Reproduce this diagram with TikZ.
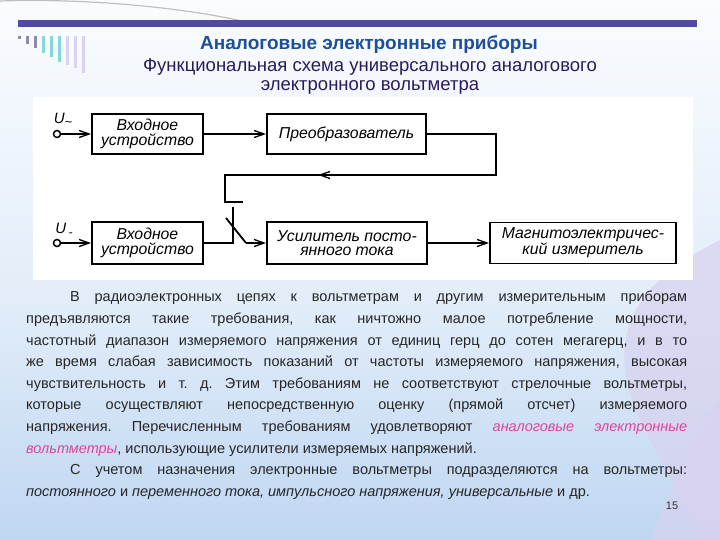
\documentclass[tikz,border=0pt]{standalone}
\usepackage{fontspec}
\setmainfont{Liberation Sans}
\usetikzlibrary{arrows.meta}
\definecolor{barcol}{HTML}{5249A6}
\definecolor{titlecol}{HTML}{1D4F9A}
\definecolor{subcol}{HTML}{2A1C5C}
\definecolor{pinkcol}{HTML}{DD459D}
\definecolor{bgtop}{HTML}{FAFCFF}
\definecolor{bgmid}{HTML}{E2EDF9}
\definecolor{bgbot}{HTML}{BFD6F2}
\definecolor{lav}{HTML}{D9D2F0}
\definecolor{teal}{HTML}{86D9D2}
\definecolor{grayb}{HTML}{8E8CA2}
\begin{document}
\begin{tikzpicture}[x=1pt,y=-1pt,
  blk/.style={draw,line width=1.8pt,fill=white,inner sep=0pt,
    font=\fontsize{15.8}{14.5}\selectfont\itshape,align=center},
  wire/.style={line width=1.8pt},
  arr/.style={wire,-{Straight Barb[length=10pt,width=7pt,line width=1.3pt]}},
  term/.style={circle,draw,line width=1.5pt,minimum size=7pt,inner sep=0pt,fill=white},
  deco/.style={minimum width=3.5pt,inner sep=0pt,anchor=north}]
\useasboundingbox (0,0) rectangle (720,540);
% background
\shade[top color=bgtop,bottom color=bgmid] (0,0) rectangle (720,300);
\shade[top color=bgmid,bottom color=bgbot] (0,300) rectangle (720,540);
\fill[lav,opacity=0.7] (720,240) .. controls (640,280) and (600,330) .. (640,420)
  .. controls (670,480) and (690,510) .. (700,540) -- (720,540) -- cycle;
\fill[lav,opacity=0.6] (650,540) .. controls (680,470) and (700,420) .. (720,400) -- (720,540) -- cycle;
\draw[gray!50,line width=1.2pt] (0,1) .. controls (90,-2) and (190,8) .. (255,24);
% header bar
\fill[barcol] (18,20) rectangle (697,27);
% decorative bars
\node[deco,fill=grayb,minimum height=3pt] (d1) at (19.5,36) {};
\node[deco,fill=grayb,minimum height=8pt] (d2) at (27.5,36) {};
\node[deco,fill=grayb,minimum height=12pt] (d3) at (35.5,36) {};
\node[deco,fill=teal,minimum height=17pt] (d4) at (43.5,36) {};
\node[deco,fill=teal,minimum height=21pt] (d5) at (51.5,36) {};
\node[deco,fill=teal,minimum height=26pt] (d6) at (59.5,36) {};
\node[deco,fill=lav,minimum height=29pt] (d7) at (67.5,36) {};
\node[deco,fill=lav,minimum height=32pt] (d8) at (75.5,36) {};
\node[deco,fill=lav,minimum height=37pt] (d9) at (83.5,36) {};
% titles
\node[font=\fontsize{19}{22}\selectfont\bfseries,text=titlecol] (title) at (369,45) {Аналоговые электронные приборы};
\node[font=\fontsize{18.5}{22}\selectfont,text=subcol] (sub1) at (370,67) {Функциональная схема универсального аналогового};
\node[font=\fontsize{18.5}{22}\selectfont,text=subcol] (sub2) at (370,87) {электронного вольтметра};
% diagram area
\fill[white] (33,97) rectangle (693,280);
\node[blk,minimum width=111pt,minimum height=40pt] (in1) at (147.5,134) {Входное\\устройство};
\node[blk,minimum width=159pt,minimum height=40pt] (conv) at (346.5,134) {Преобразователь};
\node[blk,minimum width=111pt,minimum height=42pt] (in2) at (147.5,243) {Входное\\устройство};
\node[blk,minimum width=160pt,minimum height=42pt] (amp) at (347,243) {Усилитель посто-\\янного тока};
\node[blk,minimum width=186pt,minimum height=41pt] (meter) at (583,243) {Магнитоэлектричес-\\кий измеритель};
\node[term] (t1) at (57,134) {};
\node[term] (t2) at (57,243) {};
\node[font=\fontsize{15}{15}\selectfont\itshape] (u1) at (63,120) {U\raisebox{-3pt}{\fontsize{13}{13}\selectfont\textasciitilde}};
\node[font=\fontsize{15}{15}\selectfont\itshape] (u2) at (64,230) {U\,\raisebox{-3pt}{\fontsize{12}{12}\selectfont -}};
\draw[arr] (t1) -- (in1);
\draw[arr] (t2) -- (in2);
\draw[arr] (in1) -- (conv);
\draw[arr] (amp) -- (meter);
% feedback and switch
\coordinate (fbR) at (496,175);
\coordinate (fbM) at (318,175);
\coordinate (fbL) at (225,175);
\coordinate (cU) at (225,202);
\coordinate (cUe) at (243,202);
\coordinate (cL) at (233,243);
\coordinate (cLt) at (233,207);
\coordinate (bl1) at (226,218);
\coordinate (bl2) at (246,243);
\draw[wire] (conv.east) -| (fbR) -- (fbM);
\draw[arr] (fbR) -- (fbM);
\draw[wire] (fbM) -- (fbL) -- (cU) -- (cUe);
\draw[wire] (in2.east) -- (cL) -- (cLt);
\draw[wire] (bl1) -- (bl2);
\draw[arr] (bl2) -- (amp.west);
% body text
\node[anchor=north west,inner sep=0pt,text=black!85] (body) at (26,291) {%
\begin{minipage}{661pt}\fontsize{14.5}{21.6}\selectfont\frenchspacing
\setlength{\parindent}{44pt}\setlength{\parskip}{0pt}%
В радиоэлектронных цепях к вольтметрам и другим измерительным приборам\linebreak
предъявляются такие требования, как ничтожно малое потребление мощности,\linebreak
частотный диапазон измеряемого напряжения от единиц герц до сотен мегагерц, и в то\linebreak
же время слабая зависимость показаний от частоты измеряемого напряжения, высокая\linebreak
чувствительность и т. д. Этим требованиям не соответствуют стрелочные вольтметры,\linebreak
которые осуществляют непосредственную оценку (прямой отсчет) измеряемого\linebreak
напряжения. Перечисленным требованиям удовлетворяют \textcolor{pinkcol}{\itshape аналоговые электронные}\linebreak
\textcolor{pinkcol}{\itshape вольтметры}, использующие усилители измеряемых напряжений.\par
С учетом назначения электронные вольтметры подразделяются на вольтметры:\linebreak
\textit{постоянного} и \textit{переменного тока, импульсного напряжения, универсальные} и др.\par
\end{minipage}};
\node[font=\fontsize{11}{12}\selectfont,text=black!80] (pg) at (672,506) {15};
\end{tikzpicture}
\end{document}
